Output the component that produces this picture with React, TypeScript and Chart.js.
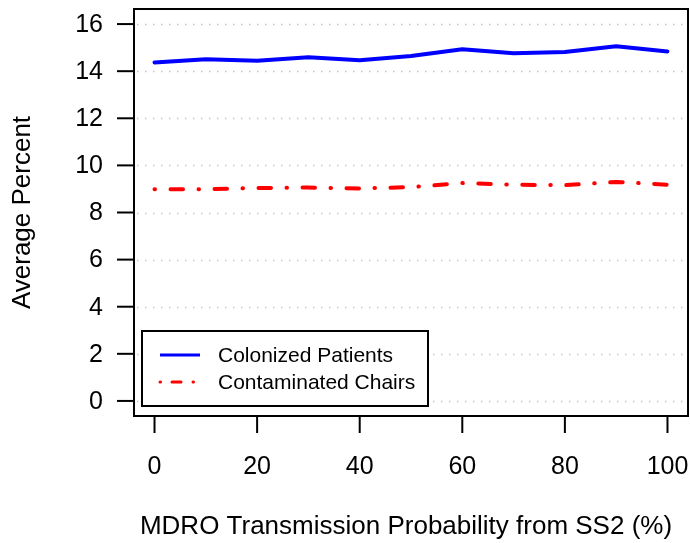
import React, { useEffect, useRef } from "react";
import { Chart, registerables } from "chart.js";

Chart.register(...registerables);

const xValues = [0, 10, 20, 30, 40, 50, 60, 70, 80, 90, 100];
const colonizedPatients = [14.37, 14.51, 14.44, 14.59, 14.46, 14.64, 14.93, 14.76, 14.81, 15.06, 14.84];
const contaminatedChairs = [8.99, 8.99, 9.04, 9.06, 9.02, 9.08, 9.25, 9.18, 9.16, 9.3, 9.18];
const yTicks = [0, 2, 4, 6, 8, 10, 12, 14, 16];
const xTicks = [0, 20, 40, 60, 80, 100];
const seriesNames = ["Colonized Patients", "Contaminated Chairs"];
const xTitle = "MDRO Transmission Probability from SS2 (%)";
const yTitle = "Average Percent";

const FONT = '"Liberation Sans", Arial, sans-serif';
const RED_DASH = [0.5, 15.5, 12.5, 15.5];
const RED_DASH_LEGEND = [0.5, 11.5, 9, 12];

const rPlot = {
  id: "rPlot",
  beforeDatasetsDraw(chart: any) {
    const { ctx, chartArea: a, scales } = chart;
    const y = scales.y;
    ctx.save();
    ctx.strokeStyle = "#c8c8c8";
    ctx.lineWidth = 1.5;
    ctx.setLineDash([1.5, 6.5]);
    for (const t of yTicks) {
      const py = Math.round(y.getPixelForValue(t)) + 0.5;
      ctx.beginPath();
      ctx.moveTo(a.left + 3, py);
      ctx.lineTo(a.right, py);
      ctx.stroke();
    }
    ctx.restore();
  },
  afterDatasetsDraw(chart: any) {
    const { ctx, chartArea: a, scales } = chart;
    const x = scales.x;
    const y = scales.y;
    ctx.save();
    ctx.strokeStyle = "#000";
    ctx.fillStyle = "#000";
    ctx.lineWidth = 2;
    ctx.setLineDash([]);
    // box
    ctx.strokeRect(a.left, a.top, a.right - a.left, a.bottom - a.top);
    // y ticks
    ctx.font = `25px ${FONT}`;
    ctx.textAlign = "right";
    ctx.textBaseline = "middle";
    for (const t of yTicks) {
      const py = y.getPixelForValue(t);
      ctx.beginPath();
      ctx.moveTo(a.left - 17, py);
      ctx.lineTo(a.left, py);
      ctx.stroke();
      ctx.fillText(String(t), a.left - 31, py + 1);
    }
    // x ticks
    ctx.textAlign = "center";
    for (const t of xTicks) {
      const px = x.getPixelForValue(t);
      ctx.beginPath();
      ctx.moveTo(px, a.bottom);
      ctx.lineTo(px, a.bottom + 17);
      ctx.stroke();
      ctx.fillText(String(t), px, 467);
    }
    // titles
    ctx.font = `26px ${FONT}`;
    ctx.fillText(xTitle, (a.left + a.right) / 2 - 5, 527);
    ctx.save();
    ctx.translate(23, (a.top + a.bottom) / 2);
    ctx.rotate(-Math.PI / 2);
    ctx.fillText(yTitle, 0, 0);
    ctx.restore();
    // legend
    const lx = 142, ly = 331, lw = 286, lh = 75;
    ctx.fillStyle = "#fff";
    ctx.fillRect(lx, ly, lw, lh);
    ctx.strokeStyle = "#000";
    ctx.lineWidth = 2;
    ctx.strokeRect(lx, ly, lw, lh);
    ctx.font = `21px ${FONT}`;
    ctx.textAlign = "left";
    ctx.fillStyle = "#000";
    const rows = [
      { y: 355, color: "#0000ff", dash: [] as number[], cap: "butt" },
      { y: 382, color: "#ff0000", dash: RED_DASH_LEGEND, cap: "round" },
    ];
    rows.forEach((r, i) => {
      ctx.strokeStyle = r.color;
      ctx.lineWidth = 3;
      ctx.lineCap = r.cap;
      ctx.setLineDash(r.dash);
      ctx.beginPath();
      ctx.moveTo(160, r.y);
      ctx.lineTo(200, r.y);
      ctx.stroke();
      ctx.setLineDash([]);
      ctx.lineCap = "butt";
      ctx.fillText(seriesNames[i], 218, r.y + 1);
    });
    ctx.restore();
  },
};

export default function App() {
  const ref = useRef<HTMLCanvasElement | null>(null);
  useEffect(() => {
    if (!ref.current) return;
    const chart = new Chart(ref.current, {
      type: "line",
      data: {
        datasets: [
          {
            label: seriesNames[0],
            data: xValues.map((v, i) => ({ x: v, y: colonizedPatients[i] })),
            borderColor: "#0000ff",
            borderWidth: 4,
            pointRadius: 0,
            tension: 0,
            borderJoinStyle: "round",
            borderCapStyle: "round",
          },
          {
            label: seriesNames[1],
            data: xValues.map((v, i) => ({ x: v, y: contaminatedChairs[i] })),
            borderColor: "#ff0000",
            borderWidth: 4,
            pointRadius: 0,
            tension: 0,
            borderDash: RED_DASH,
            borderJoinStyle: "round",
            borderCapStyle: "round",
          },
        ],
      },
      options: {
        responsive: false,
        animation: false,
        devicePixelRatio: 1,
        layout: { padding: { left: 134, top: 9, right: 2, bottom: 127 } },
        plugins: { legend: { display: false }, tooltip: { enabled: false }, title: { display: false } },
        scales: {
          x: { type: "linear", min: -4, max: 104, display: false },
          y: { type: "linear", min: -0.64, max: 16.64, display: false },
        },
      },
      plugins: [rPlot],
    });
    return () => chart.destroy();
  }, []);
  return (
    <div style={{ position: "absolute", left: 0, top: 0, width: 690, height: 543, background: "#fff" }}>
      <canvas ref={ref} width={690} height={543} style={{ display: "block" }} />
    </div>
  );
}
